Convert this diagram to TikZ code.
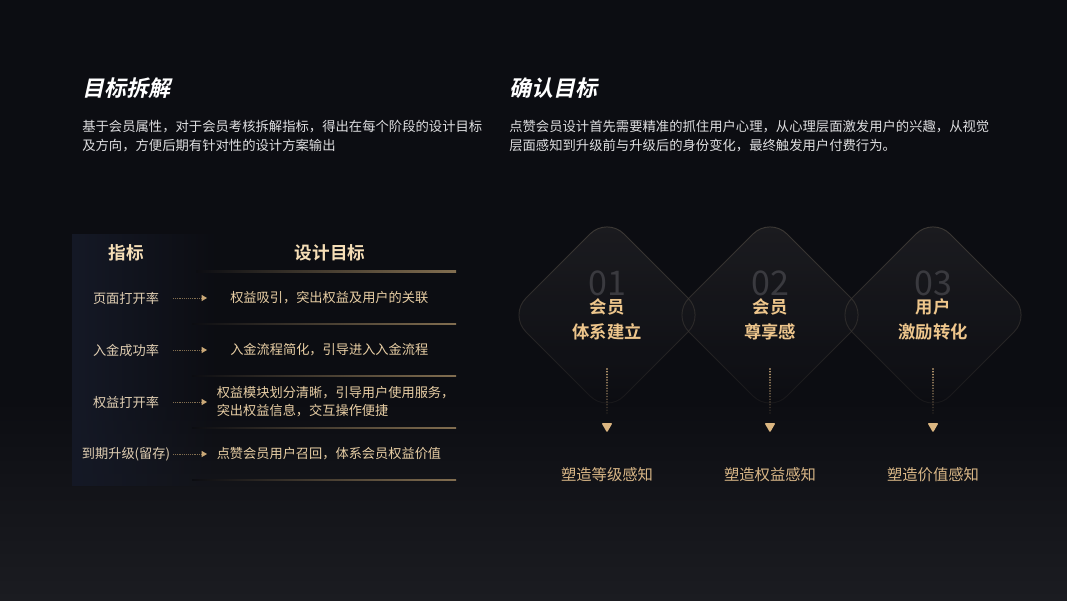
\documentclass[tikz,border=0pt]{standalone}
\usepackage{fontspec}
\setmainfont{Noto Sans CJK SC}[BoldFont={Noto Sans CJK SC Bold}]
\newfontfamily\titlefont{Noto Sans CJK SC Bold}[FakeSlant=0.22]
\usetikzlibrary{arrows.meta,fadings}
\definecolor{bg}{RGB}{12,13,18}
\definecolor{bgb}{RGB}{27,28,33}
\definecolor{paratext}{RGB}{222,222,224}
\definecolor{gold}{RGB}{238,198,140}
\definecolor{goldhead}{RGB}{246,222,182}
\definecolor{rowtext}{RGB}{224,206,178}
\definecolor{goaltext}{RGB}{232,206,164}
\definecolor{labgold}{RGB}{216,182,134}
\definecolor{linegold}{RGB}{130,110,80}
\definecolor{panel}{RGB}{21,25,38}
\definecolor{dtop}{RGB}{32,32,36}
\definecolor{dborder}{RGB}{62,58,54}
\definecolor{numgray}{RGB}{58,58,63}
\tikzfading[name=fadeRight, left color=transparent!0, middle color=transparent!15, right color=transparent!100]
\tikzfading[name=fadeDown, top color=transparent!0, bottom color=transparent!80]
\tikzfading[name=fadeNum, top color=transparent!0, bottom color=transparent!100]
\tikzset{
  titletext/.style={anchor=west,inner sep=0pt,text=white,font=\titlefont\fontsize{16.5}{20}\selectfont},
  paratxt/.style={anchor=west,inner sep=0pt,text=paratext,align=left,font=\fontsize{10}{14.2}\selectfont},
  headtxt/.style={inner sep=0pt,text=goldhead,font=\bfseries\fontsize{13.2}{16}\selectfont},
  rowlab/.style={inner sep=0pt,text=rowtext,font=\fontsize{9.9}{13.5}\selectfont},
  goaltxt/.style={anchor=west,inner sep=0pt,text=goaltext,align=left,font=\fontsize{9.9}{13.5}\selectfont},
  dotarrow/.style={draw=linegold,line width=0.6pt,dash pattern=on 0.6pt off 0.8pt,
     -{Triangle[length=4pt,width=4.5pt,color=gold!85!black]}},
  diamtext/.style={inner sep=0pt,text=gold,align=center,font=\bfseries\fontsize{13}{18.8}\selectfont},
  numtext/.style={inner sep=0pt,text height=17pt,text depth=0pt,text=numgray,font=\fontsize{25.5}{28}\selectfont},
  bottomlab/.style={inner sep=0pt,text=labgold,font=\fontsize{11.5}{14}\selectfont},
}
\begin{document}
\begin{tikzpicture}[x=0.75pt,y=-0.75pt]
\useasboundingbox (0,0) rectangle (1067,600);
% background
\fill[bg] (0,0) rectangle (1067,600);
\shade[top color=bg, bottom color=bgb] (0,400) rectangle (1067,600);

% ---------- left section ----------
\node[titletext] (t1) at (82,88) {目标拆解};
\node[paratxt] (p1) at (82,136.5) {基于会员属性，对于会员考核拆解指标，得出在每个阶段的设计目标\\及方向，方便后期有针对性的设计方案输出};

% table panel
\fill[panel, path fading=fadeRight] (72,234) rectangle (220,486);

\node[headtxt] (h1) at (126,253) {指标};
\node[headtxt] (h2) at (330,253) {设计目标};

% separator lines
\foreach \yy/\xs in {271.5/196,324/192,376/192,428/192,480/192}{
  \shade[left color=bg, right color=linegold] (\xs,\yy-0.6) rectangle (456,\yy+0.6);
}

% rows
\node[rowlab] (l1) at (126,298) {页面打开率};
\node[rowlab] (l2) at (126,350) {入金成功率};
\node[rowlab] (l3) at (126,402) {权益打开率};
\node[rowlab] (l4) at (126,454) {到期升级(留存)};

\node[goaltxt] (g1) at (230,298) {权益吸引，突出权益及用户的关联};
\node[goaltxt] (g2) at (230,350) {入金流程简化，引导进入入金流程};
\node[goaltxt] (g3) at (216.5,402) {权益模块划分清晰，引导用户使用服务，\\突出权益信息，交互操作便捷};
\node[goaltxt] (g4) at (216.5,454) {点赞会员用户召回，体系会员权益价值};

\foreach \i/\yy in {1/298,2/350,3/402,4/454}{
  \coordinate (as\i) at (173,\yy);
  \coordinate (ae\i) at (207,\yy);
  \draw[dotarrow] (as\i) -- (ae\i);
}

% ---------- right section ----------
\node[titletext] (t2) at (509,88) {确认目标};
\node[paratxt] (p2) at (509,136.5) {点赞会员设计首先需要精准的抓住用户心理，从心理层面激发用户的兴趣，从视觉\\层面感知到升级前与升级后的身份变化，最终触发用户付费行为。};

% diamond fills
\foreach \cx in {607,770,933}{
  \shade[top color=dtop, bottom color=bg, rounded corners=18pt, fill opacity=0.8]
    (\cx,217) -- (\cx+98,315) -- (\cx,413) -- (\cx-98,315) -- cycle;
}
% diamond borders
\foreach \cx in {607,770,933}{
  \draw[dborder, line width=0.7pt, rounded corners=18pt, path fading=fadeDown]
    (\cx,217) -- (\cx+98,315) -- (\cx,413) -- (\cx-98,315) -- cycle;
}

\foreach \cx/\n/\a/\b/\lab/\k in {607/01/会员/体系建立/塑造等级感知/1, 770/02/会员/尊享感/塑造权益感知/2, 933/03/用户/激励转化/塑造价值感知/3}{
  \node[numtext] (n\k) at (\cx,284) {\n};
  \node[diamtext] (d\k) at (\cx,319) {\a\\\b};
  \coordinate (ds\k) at (\cx,369);
  \foreach \j in {0,...,16}{
    \pgfmathsetmacro{\op}{1-\j/18}
    \fill[gold, opacity=\op] (\cx,369+\j*2.75) circle (0.95);
  }
  \fill[gold!92!black, rounded corners=0.8pt] (\cx-5.5,423) -- (\cx+5.5,423) -- (\cx,432.5) -- cycle;
  \coordinate (tri\k) at (\cx,428);
  \node[bottomlab] (b\k) at (\cx,475) {\lab};
}
\end{tikzpicture}
\end{document}
